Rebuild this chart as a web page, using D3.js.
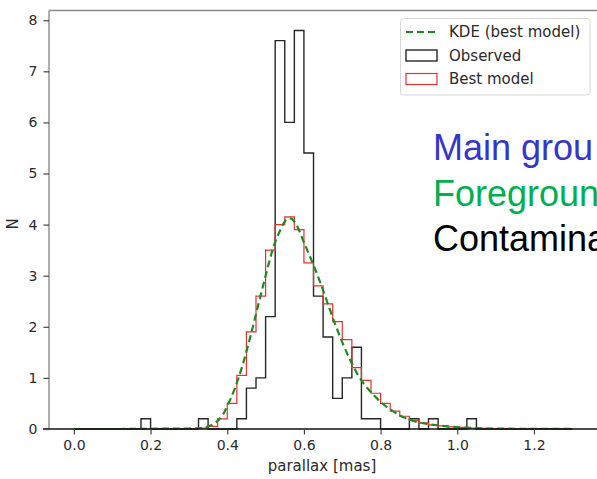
<!DOCTYPE html>
<html>
<head>
<meta charset="utf-8">
<script src="https://cdn.jsdelivr.net/npm/d3@7"></script>
<style>
  body { margin: 0; background: #fff; }
  svg { display: block; }
</style>
</head>
<body>
<div id="chart"></div>
<script>
// histogram bins: left edges 0.000 .. 1.275, width 0.025
const binWidth = 0.025;
const binStart = 0.0;

// observed histogram (N per bin)
const observed = [
    0, 0, 0, 0, 0, 0, 0, 0.2, 0, 0,
    0, 0, 0, 0.2, 0, 0, 0, 0.2, 0.8, 1.0,
    2.2, 7.6, 6.0, 7.8, 5.4, 2.6, 1.8, 0.6, 1.0, 1.6,
    0.2, 0.2, 0, 0, 0, 0.2, 0, 0.2, 0, 0,
    0, 0.2, 0, 0, 0, 0, 0, 0, 0, 0,
    0, 0
];

// best model histogram
const bestModel = [
    0, 0, 0, 0, 0, 0, 0, 0, 0, 0,
    0, 0, 0.01, 0.02, 0.05, 0.2, 0.5, 1.05, 1.9, 2.6,
    3.5, 4.0, 4.15, 3.9, 3.25, 2.8, 2.45, 2.1, 1.75, 1.2,
    0.95, 0.7, 0.5, 0.35, 0.25, 0.17, 0.12, 0.08, 0.06, 0.04,
    0.03, 0.02, 0.015, 0.01, 0.01, 0.005, 0.005, 0, 0, 0,
    0, 0
];

// KDE of best model
const kdeX = [0.0, 0.1, 0.2, 0.3, 0.33, 0.35, 0.37, 0.39, 0.40, 0.42,
              0.44, 0.46, 0.48, 0.50, 0.52, 0.54, 0.555, 0.565, 0.58, 0.60,
              0.62, 0.64, 0.66, 0.68, 0.70, 0.72, 0.74, 0.76, 0.78, 0.80,
              0.82, 0.84, 0.86, 0.88, 0.90, 0.92, 0.95, 1.0, 1.05, 1.1,
              1.2, 1.3];
const kdeY = [0, 0, 0.005, 0.01, 0.02, 0.05, 0.13, 0.3, 0.45, 0.8,
              1.25, 1.8, 2.4, 3.0, 3.55, 3.92, 4.1, 4.12, 4.0, 3.65,
              3.3, 2.92, 2.5, 2.08, 1.7, 1.36, 1.07, 0.85, 0.68, 0.53,
              0.41, 0.31, 0.23, 0.17, 0.13, 0.1, 0.07, 0.035, 0.018, 0.009,
              0.003, 0.001];

const xTicks = [0.0, 0.2, 0.4, 0.6, 0.8, 1.0, 1.2];
const yTicks = [0, 1, 2, 3, 4, 5, 6, 7, 8];

const legendLabels = ["KDE (best model)", "Observed", "Best model"];
const groupLabels = ["Main grou", "Foregroun", "Contamina"];
const groupColors = ["#3535cc", "#00b050", "#000000"];

function drawChart() {
    const width = 597;
    const height = 479;

    const svg = d3.select("#chart")
        .append("svg")
        .attr("width", width)
        .attr("height", height);

    const x = d3.scaleLinear()
        .domain([-0.065, 1.365])
        .range([49, 597.2]);

    const y = d3.scaleLinear()
        .domain([0, 8.19])
        .range([429, 10.5]);

    // turn bin values into a step outline
    function stepPath(values) {
        let pts = [[binStart, 0]];
        values.forEach(function (v, i) {
            const x0 = binStart + i * binWidth;
            pts.push([x0, v]);
            pts.push([x0 + binWidth, v]);
        });
        pts.push([binStart + values.length * binWidth, 0]);
        return d3.line()
            .x(d => x(d[0]))
            .y(d => y(d[1]))(pts);
    }

    // spines
    svg.append("line")
        .attr("x1", 49).attr("x2", 49)
        .attr("y1", 10.5).attr("y2", 429)
        .attr("stroke", "#8a8a8a").attr("stroke-width", 1.4);
    svg.append("line")
        .attr("x1", 49).attr("x2", 600)
        .attr("y1", 10.5).attr("y2", 10.5)
        .attr("stroke", "#8a8a8a").attr("stroke-width", 1.4);

    // histograms
    svg.append("path")
        .attr("d", stepPath(observed))
        .attr("fill", "none")
        .attr("stroke", "#262626")
        .attr("stroke-width", 1.4);

    svg.append("path")
        .attr("d", stepPath(bestModel))
        .attr("fill", "none")
        .attr("stroke", "#e8302e")
        .attr("stroke-width", 1.2);

    const kde = kdeX.map((d, i) => [d, kdeY[i]]);
    svg.append("path")
        .datum(kde)
        .attr("d", d3.line()
            .x(d => x(d[0]))
            .y(d => y(d[1]))
            .curve(d3.curveMonotoneX))
        .attr("fill", "none")
        .attr("stroke", "#1f8a1f")
        .attr("stroke-width", 2.2)
        .attr("stroke-dasharray", "7,4");

    // bottom line
    svg.append("line")
        .attr("x1", 43).attr("x2", 597)
        .attr("y1", 429).attr("y2", 429)
        .attr("stroke", "#111").attr("stroke-width", 1.5);

    // axes
    const xAxis = svg.append("g")
        .attr("transform", "translate(0,429)")
        .call(d3.axisBottom(x)
            .tickValues(xTicks)
            .tickFormat(d3.format(".1f"))
            .tickSize(5.5)
            .tickPadding(6));
    xAxis.select(".domain").remove();

    const yAxis = svg.append("g")
        .attr("transform", "translate(49,0)")
        .call(d3.axisLeft(y)
            .tickValues(yTicks)
            .tickSize(5.5)
            .tickPadding(6));
    yAxis.select(".domain").remove();

    svg.selectAll(".tick line")
        .attr("stroke", "#444")
        .attr("stroke-width", 1.2);
    svg.selectAll(".tick text")
        .attr("fill", "#2a2a2a")
        .style("font-family", "DejaVu Sans")
        .style("font-size", "14px");

    // axis labels
    svg.append("text")
        .attr("x", 322).attr("y", 471)
        .attr("text-anchor", "middle")
        .attr("fill", "#2a2a2a")
        .style("font-family", "DejaVu Sans")
        .style("font-size", "15px")
        .text("parallax [mas]");

    svg.append("text")
        .attr("transform", "translate(18,224) rotate(-90)")
        .attr("text-anchor", "middle")
        .attr("fill", "#2a2a2a")
        .style("font-family", "DejaVu Sans")
        .style("font-size", "15px")
        .text("N");

    // legend
    const legend = svg.append("g");
    legend.append("rect")
        .attr("x", 400.5).attr("y", 18.5)
        .attr("width", 189.5).attr("height", 76.5)
        .attr("rx", 3)
        .attr("fill", "#fff").attr("fill-opacity", 0.8)
        .attr("stroke", "#d6d6d6");

    const rowY = [32, 55.5, 79];
    legend.append("line")
        .attr("x1", 406).attr("x2", 437)
        .attr("y1", rowY[0]).attr("y2", rowY[0])
        .attr("stroke", "#1f8a1f").attr("stroke-width", 2.2)
        .attr("stroke-dasharray", "7,4");
    legend.append("rect")
        .attr("x", 406).attr("y", rowY[1] - 5.5)
        .attr("width", 31).attr("height", 11)
        .attr("fill", "none").attr("stroke", "#262626").attr("stroke-width", 1.4);
    legend.append("rect")
        .attr("x", 406).attr("y", rowY[2] - 5.5)
        .attr("width", 31).attr("height", 11)
        .attr("fill", "none").attr("stroke", "#e8302e").attr("stroke-width", 1.2);

    legend.selectAll("text.lab")
        .data(legendLabels)
        .join("text")
        .attr("class", "lab")
        .attr("x", 449)
        .attr("y", (d, i) => rowY[i])
        .attr("dy", "0.35em")
        .attr("fill", "#2a2a2a")
        .style("font-family", "DejaVu Sans")
        .style("font-size", "15px")
        .text(d => d);

    // group annotation, cut by the right edge
    svg.selectAll("text.group")
        .data(groupLabels)
        .join("text")
        .attr("class", "group")
        .attr("x", 433)
        .attr("y", (d, i) => 160 + i * 45.5)
        .attr("fill", (d, i) => groupColors[i])
        .style("font-family", "Liberation Sans, Arial")
        .style("font-size", "36px")
        .text(d => d);
}
drawChart();
</script>
</body>
</html>
